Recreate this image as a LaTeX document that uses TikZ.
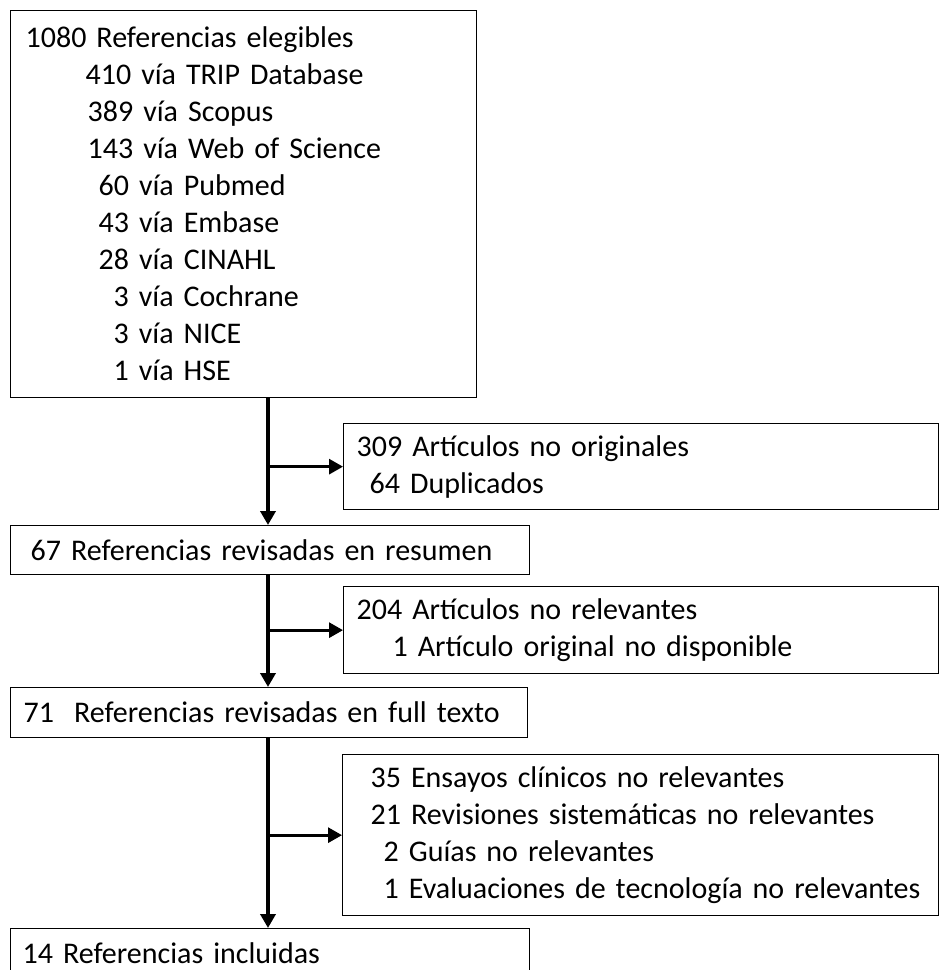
\documentclass[tikz,border=0pt]{standalone}
\usepackage{fontspec}
\setmainfont{Carlito}
\usetikzlibrary{arrows.meta,positioning,calc}

\tikzset{
	stage/.style={draw, line width=1.3pt, anchor=north west, align=left,
		inner xsep=0pt, inner ysep=0pt, font=\fontsize{30}{37}\selectfont},
	flow/.style={line width=4pt, -{Triangle[length=14pt,width=15pt]}},
	branch/.style={flow, line width=3pt},
}

\begin{document}
\begin{tikzpicture}[x=1pt,y=-1pt]
	\useasboundingbox (0,0) rectangle (939,970);
	\clip (0,0) rectangle (939,970);
	% boxes
	\node[stage, text width=466pt, minimum height=387pt] (refs) at (10,10) {%
		\hspace*{15pt}1080 Referencias elegibles\\
		\hspace*{75pt}410 vía TRIP Database\\
		\hspace*{77pt}389 vía Scopus\\
		\hspace*{77pt}143 vía Web of Science\\
		\hspace*{88pt}60 vía Pubmed\\
		\hspace*{88pt}43 vía Embase\\
		\hspace*{88pt}28 vía CINAHL\\
		\hspace*{103pt}3 vía Cochrane\\
		\hspace*{103pt}3 vía NICE\\
		\hspace*{103pt}1 vía HSE};
	\node[stage, text width=595pt, minimum height=86pt] (noorig) at (343,423) {%
		\hspace*{13pt}309 Artículos no originales\\
		\hspace*{26pt}64 Duplicados};
	\node[stage, text width=519pt, minimum height=49pt] (resumen) at (10,525) {%
		\hspace*{20pt}67 Referencias revisadas en resumen};
	\node[stage, text width=595pt, minimum height=87pt] (norel) at (343,586) {%
		\hspace*{13pt}204 Artículos no relevantes\\
		\hspace*{49pt}1 Artículo original no disponible};
	\node[stage, text width=517pt, minimum height=50pt] (fulltext) at (10,687) {%
		\hspace*{13pt}71\ \ Referencias revisadas en full texto};
	\node[stage, text width=596pt, minimum height=161pt] (excl) at (342,754) {%
		\hspace*{28pt}35 Ensayos clínicos no relevantes\\
		\hspace*{28pt}21 Revisiones sistemáticas no relevantes\\
		\hspace*{41pt}2 Guías no relevantes\\
		\hspace*{41pt}1 Evaluaciones de tecnología no relevantes};
	\node[stage, text width=519pt, minimum height=50pt] (incl) at (10,928) {%
		\hspace*{12pt}14 Referencias incluidas};
	% arrows
	\coordinate (spine) at (268,0);
	\draw[flow] (spine |- refs.south) -- (spine |- resumen.north);
	\draw[flow] (spine |- resumen.south) -- (spine |- fulltext.north);
	\draw[flow] (spine |- fulltext.south) -- (spine |- incl.north);
	\draw[branch] (spine |- noorig.west) -- (noorig.west);
	\draw[branch] (spine |- norel.west) -- (norel.west);
	\draw[branch] (spine |- excl.west) -- (excl.west);
\end{tikzpicture}
\end{document}
